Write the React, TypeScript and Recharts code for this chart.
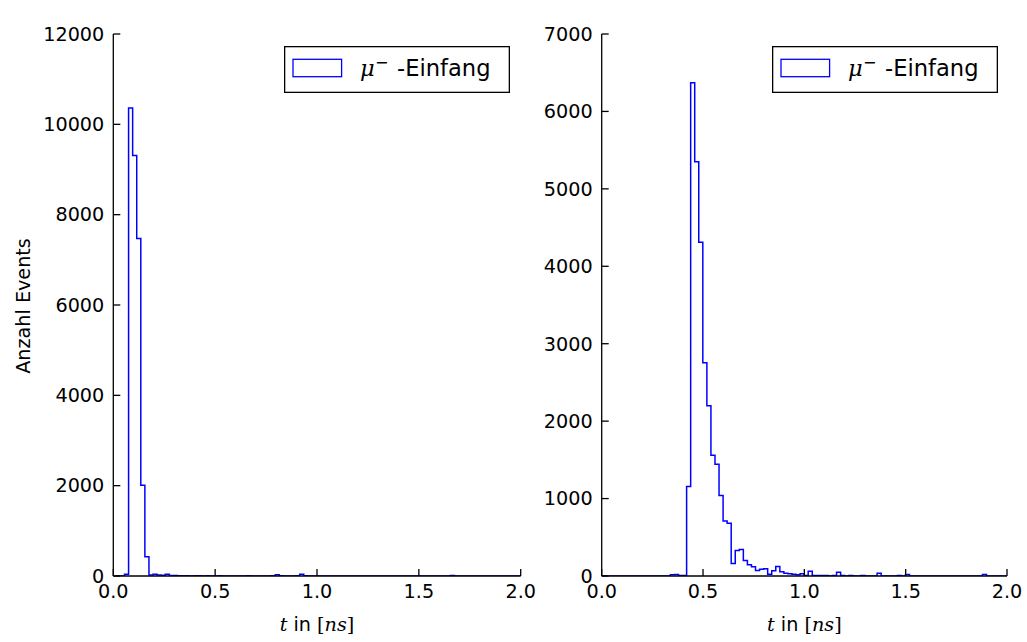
import { LineChart, Line, XAxis, YAxis, Legend } from 'recharts'

// histogram bins, width 0.02 ns, 100 bins per detector
const BIN_WIDTH = 0.02
const SC1_START = 0.015
const SC2_START = -0.001

const sc1Counts = [
  0, 0, 40, 10360, 9310, 7470, 2010, 425, 20, 40,
  20, 15, 40, 10, 10, 5, 5, 5, 0, 5,
  5, 0, 5, 0, 0, 5, 0, 0, 0, 0,
  0, 0, 5, 0, 0, 0, 0, 0, 5, 30,
  5, 0, 0, 0, 5, 40, 5, 0, 0, 0,
  0, 0, 0, 0, 0, 0, 0, 0, 0, 0,
  0, 0, 0, 0, 0, 0, 0, 0, 0, 0,
  0, 0, 0, 0, 0, 0, 0, 0, 0, 0,
  0, 0, 10, 0, 0, 0, 0, 0, 0, 0,
  0, 0, 0, 0, 0, 0, 0, 0, 0, 0,
]

const sc2Counts = [
  0, 0, 0, 0, 0, 0, 0, 0, 0, 0,
  0, 0, 0, 0, 0, 0, 0, 15, 20, 5,
  5, 1155, 6370, 5350, 4310, 2755, 2200, 1560, 1444, 1040,
  710, 680, 160, 330, 342, 200, 145, 120, 70, 88,
  95, 22, 68, 122, 55, 35, 28, 22, 15, 30,
  8, 60, 8, 5, 5, 5, 0, 5, 50, 5,
  0, 5, 0, 0, 5, 0, 0, 0, 35, 0,
  0, 0, 0, 5, 0, 20, 0, 0, 0, 0,
  0, 0, 0, 0, 0, 0, 0, 0, 0, 0,
  0, 0, 0, 0, 20, 0, 0, 0, 0, 0,
]

const xTicks = [0, 0.5, 1, 1.5, 2]
const sc1Ticks = [0, 2000, 4000, 6000, 8000, 10000, 12000]
const sc2Ticks = [0, 1000, 2000, 3000, 4000, 5000, 6000, 7000]

const FONT = 'DejaVu Sans'
const TICK_FONT = 19.2
const BIG_FONT = 22.6
const tickStyle = { fontSize: TICK_FONT, fill: '#000', fontFamily: FONT }
const axisStyle = { stroke: '#000', strokeWidth: 1.3 }

function toSteps(start: number, counts: number[]) {
  const pts = counts.map((n, i) => ({ t: start + i * BIN_WIDTH, n }))
  pts.push({ t: start + counts.length * BIN_WIDTH, n: counts[counts.length - 1] })
  return pts
}

function HistLegend() {
  return (
    <svg width={226} height={47} style={{ display: 'block' }}>
      <rect x={0.65} y={0.65} width={224.7} height={45.7} fill="#fff" stroke="#000" strokeWidth={1.3} />
      <rect x={9} y={13.3} width={48.6} height={17.4} fill="none" stroke="#0000ff" strokeWidth={1.3} />
      <text y={30} fontSize={BIG_FONT} fill="#000" fontFamily={FONT}>
        <tspan x={76} fontFamily="DejaVu Serif" fontStyle="italic">μ</tspan>
        <tspan x={91} dy={-8} fontSize={16}>−</tspan>
        <tspan x={113} dy={8}>-Einfang</tspan>
      </text>
    </svg>
  )
}

function XLabel(props: any) {
  const vb = props.viewBox || { x: 0, y: 0, width: 0 }
  return (
    <text x={vb.x + vb.width / 2} y={vb.y + 55} textAnchor="middle" fontSize={TICK_FONT} fill="#000" fontFamily={FONT}>
      <tspan fontFamily="DejaVu Serif" fontStyle="italic">t</tspan>
      <tspan> in </tspan>
      <tspan fontFamily="DejaVu Serif">[</tspan>
      <tspan fontFamily="DejaVu Serif" fontStyle="italic">ns</tspan>
      <tspan fontFamily="DejaVu Serif">]</tspan>
    </text>
  )
}

function YLabel() {
  return (
    <text x={29.5} y={306} transform="rotate(-90 29.5 306)" textAnchor="middle" fontSize={TICK_FONT} fill="#000" fontFamily={FONT}>
      Anzahl Events
    </text>
  )
}

interface PanelProps {
  title: string
  data: { t: number; n: number }[]
  yTicks: number[]
  yMax: number
  width: number
  yAxisWidth: number
  rightMargin: number
  legendLeft: number
  yLabel?: boolean
}

function Panel({ title, data, yTicks, yMax, width, yAxisWidth, rightMargin, legendLeft, yLabel }: PanelProps) {
  return (
    <LineChart width={width} height={642} data={data} margin={{ top: 34, right: rightMargin, bottom: 0, left: 0 }}>
      <XAxis
        xAxisId="b"
        dataKey="t"
        type="number"
        domain={[0, 2]}
        ticks={xTicks}
        interval={0}
        allowDataOverflow
        tickFormatter={(v: number) => v.toFixed(1)}
        height={66}
        tickSize={-7}
        tickMargin={15.7}
        tick={tickStyle}
        axisLine={axisStyle}
        tickLine={axisStyle}
        label={<XLabel />}
      />
      <XAxis
        xAxisId="top"
        orientation="top"
        dataKey="t"
        type="number"
        domain={[0, 2]}
        ticks={xTicks}
        interval={0}
        allowDataOverflow
        height={0}
        tickSize={-7}
        tick={false}
        axisLine={axisStyle}
        tickLine={axisStyle}
        label={{ value: title, position: 'top', offset: 12, fontSize: BIG_FONT, fill: '#000', fontFamily: FONT }}
      />
      <YAxis
        yAxisId="l"
        type="number"
        domain={[0, yMax]}
        ticks={yTicks}
        interval={0}
        allowDataOverflow
        width={yAxisWidth}
        tickSize={-7}
        tickMargin={16}
        tick={tickStyle}
        axisLine={axisStyle}
        tickLine={axisStyle}
        label={yLabel ? <YLabel /> : undefined}
      />
      <YAxis
        yAxisId="r"
        orientation="right"
        type="number"
        domain={[0, yMax]}
        ticks={yTicks}
        interval={0}
        width={0}
        tickSize={-7}
        tick={false}
        axisLine={axisStyle}
        tickLine={axisStyle}
      />
      <Line
        xAxisId="b"
        yAxisId="l"
        type="stepAfter"
        dataKey="n"
        stroke="#0000ff"
        strokeWidth={1.5}
        dot={false}
        activeDot={false}
        isAnimationActive={false}
      />
      <Legend
        layout="vertical"
        align="center"
        verticalAlign="middle"
        content={() => <HistLegend />}
        wrapperStyle={{ left: legendLeft, top: 46, width: 226, height: 47 }}
      />
    </LineChart>
  )
}

export default function App() {
  const sc1 = toSteps(SC1_START, sc1Counts)
  const sc2 = toSteps(SC2_START, sc2Counts)
  return (
    <div style={{ position: 'absolute', left: 0, top: 0, width: 1027, height: 642, background: '#fff' }}>
      <div style={{ position: 'absolute', left: 0, top: 0 }}>
        <Panel title="SC1" data={sc1} yTicks={sc1Ticks} yMax={12000} width={560} yAxisWidth={113.3} rightMargin={39.3} legendLeft={283.5} yLabel />
      </div>
      <div style={{ position: 'absolute', left: 530, top: 0 }}>
        <Panel title="SC2" data={sc2} yTicks={sc2Ticks} yMax={7000} width={497} yAxisWidth={71.7} rightMargin={20} legendLeft={241.7} />
      </div>
    </div>
  )
}
